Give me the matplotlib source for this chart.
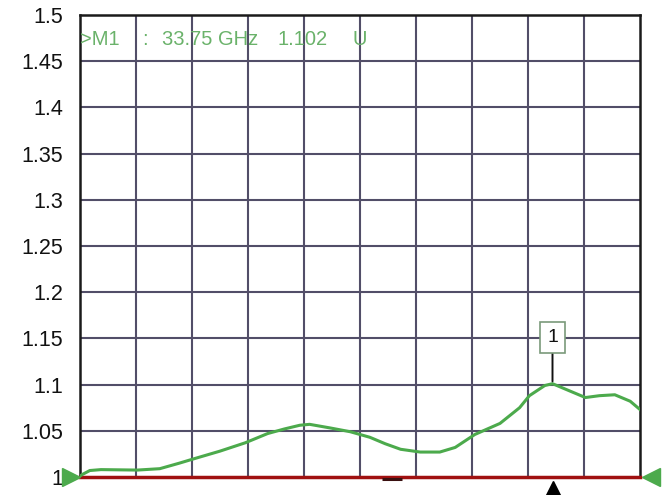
import matplotlib
matplotlib.use("Agg")
import matplotlib.pyplot as plt
import numpy as np

# Data (frequency in GHz, magnitude in U)
freq = [0.0, 0.2, 0.7, 1.5, 4.1, 5.7, 7.1, 8.2, 10.0, 11.8, 13.4, 14.6, 15.7, 16.4,
        17.9, 19.3, 20.7, 21.8, 22.9, 24.3, 25.7, 26.8, 28.2, 30.0, 31.4, 32.1,
        33.2, 33.75, 35.0, 36.1, 37.1, 38.2, 39.3, 40.0]
mag = [1.001, 1.003, 1.007, 1.008, 1.0075, 1.009, 1.015, 1.02, 1.028, 1.037, 1.047,
       1.052, 1.056, 1.057, 1.053, 1.049, 1.043, 1.036, 1.030, 1.027, 1.027, 1.032,
       1.046, 1.058, 1.075, 1.088, 1.099, 1.101, 1.093, 1.086, 1.088, 1.089, 1.082, 1.073]
yticks = [1.0, 1.05, 1.1, 1.15, 1.2, 1.25, 1.3, 1.35, 1.4, 1.45, 1.5]
ytick_labels = ["1", "1.05", "1.1", "1.15", "1.2", "1.25", "1.3", "1.35", "1.4", "1.45", "1.5"]
marker_freq = 33.75
marker_val = 1.102
marker_parts = [">M1", ":", "33.75 GHz", "1.102", "U"]
marker_part_x = [0.0, 4.43, 5.86, 14.1, 19.45]

fig = plt.figure(figsize=(6.69, 4.95), dpi=100)
ax = fig.add_axes([80/669, 1-477/495, 560/669, 462/495])
ax.set_xlim(0, 40)
ax.set_ylim(1.0, 1.5)

grid_c = "#524e68"
for xv in np.linspace(0, 40, 11)[1:-1]:
    ax.axvline(xv, color=grid_c, lw=1.5, zorder=1)
for yv in yticks[1:-1]:
    ax.axhline(yv, color=grid_c, lw=1.5, zorder=1)

ax.set_xticks([])
ax.set_yticks(yticks)
ax.set_yticklabels(ytick_labels, family="Liberation Sans", fontsize=15.5, color="#111111")
ax.tick_params(axis="y", length=0, pad=12)
for s in ax.spines.values():
    s.set_color("#1a1a1a")
    s.set_linewidth(1.8)

# reference line
ax.axhline(1.0, color="#a01010", lw=2.5, zorder=3, clip_on=False)
ax.plot([21.6, 23.0], [0.9975, 0.9975], color="#3a1010", lw=2.2, solid_capstyle="butt",
        clip_on=False, zorder=4)

# trace
ax.plot(freq, mag, color="#4caa4c", lw=2.2, zorder=5)

# marker annotation
for txt, xp in zip(marker_parts, marker_part_x):
    ax.text(xp, 1.4735, txt, family="Liberation Sans", fontsize=14.5,
            color="#6ab26a", ha="left", va="center", zorder=6)
ax.annotate("1", xy=(marker_freq, marker_val), xytext=(marker_freq, 1.151),
            family="Liberation Sans", fontsize=14, color="#111111", ha="center", va="center",
            bbox=dict(boxstyle="square,pad=0.35", fc="white", ec="#7a9a7a", lw=1.2),
            arrowprops=dict(arrowstyle="-", color="#111111", lw=1.4, shrinkA=0, shrinkB=1),
            zorder=6)

# triangles
ax.plot([-0.65], [1.0], marker=">", ms=13, color="#4caa4c", clip_on=False, zorder=6)
ax.plot([40.75], [1.0], marker="<", ms=13, color="#4caa4c", clip_on=False, zorder=6)
ax.plot([marker_freq], [0.988], marker="^", ms=10, color="black", clip_on=False, zorder=6)

fig.savefig("out.png", dpi=100)
